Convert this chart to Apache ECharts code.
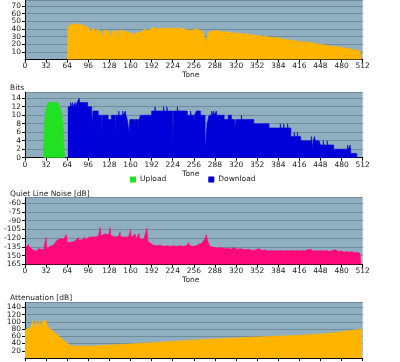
<!DOCTYPE html>
<html><head><meta charset="utf-8">
<script src="https://cdn.jsdelivr.net/npm/echarts@6/dist/echarts.min.js"></script>
<style>html,body{margin:0;padding:0;background:#fff}#c{width:400px;height:362px}</style>
</head><body><div id="c"></div><script>
// ---- data (tone, value) ----
const snrData = [[64,0],[65,43],[68,44],[70,46],[74,47],[78,46],[80,47],[84,46],[88,45],[90,44],[92,43],[94,44],[96,42],[98,41],[100,35],[101,41],[104,40],[106,39],[108,32],[109,40],[112,39],[114,37],[116,38],[118,30],[119,38],[122,37],[126,38],[128,36],[130,30],[131,37],[134,38],[136,37],[138,36],[140,38],[142,28],[143,38],[146,37],[150,38],[152,37],[154,36],[156,30],[157,36],[160,35],[162,34],[164,35],[166,32],[167,35],[170,34],[172,35],[174,33],[176,36],[178,38],[180,39],[182,38],[184,39],[186,37],[188,38],[190,40],[192,41],[194,40],[196,42],[198,41],[200,40],[202,42],[205,41],[208,42],[210,41],[212,42],[215,41],[218,42],[220,41],[222,42],[225,41],[228,42],[230,41],[232,40],[236,41],[240,40],[242,41],[245,39],[248,40],[250,38],[252,40],[256,39],[258,38],[260,40],[263,39],[266,38],[268,37],[270,36],[272,30],[273,20],[275,18],[276,22],[278,35],[280,37],[284,38],[288,37],[292,38],[296,37],[300,36],[304,37],[308,35],[312,36],[316,35],[320,34],[324,35],[328,34],[332,33],[336,34],[340,33],[344,32],[348,32],[352,31],[356,31],[360,30],[364,30],[368,30],[372,29],[376,29],[380,29],[384,28],[388,28],[392,27],[396,26],[400,26],[404,25],[408,25],[412,24],[416,24],[420,23],[424,23],[428,23],[432,22],[436,22],[440,21],[444,20],[448,20],[452,19],[456,19],[460,18],[464,18],[468,17],[472,17],[476,16],[480,16],[484,15],[488,15],[492,14],[496,13],[500,13],[504,12],[508,11],[509,0]];
const uploadBits = [[28,0],[29,6],[30,9],[31,11],[33,12],[35,13],[50,13],[52,12],[55,11],[56,10],[58,7],[59,3],[60,0]];
const downloadBits = [[65,12],[69,13],[70,12],[72,13],[73,12],[76,13],[77,12],[79,13],[82,14],[83,13],[95,12],[101,11],[102,8],[103,11],[111,10],[116,4],[117,10],[126,9],[131,10],[137,5],[138,10],[142,11],[143,10],[148,11],[149,10],[152,11],[153,10],[155,9],[158,6],[159,9],[166,7],[167,9],[172,6],[173,9],[175,10],[192,11],[197,12],[198,11],[210,12],[211,11],[215,12],[216,11],[224,2],[225,11],[231,12],[232,11],[246,10],[251,11],[252,10],[256,8],[257,10],[260,11],[266,10],[273,2],[276,8],[279,10],[283,11],[284,10],[286,11],[287,10],[290,11],[291,10],[302,9],[308,10],[313,9],[318,7],[320,9],[328,10],[329,9],[347,8],[370,7],[387,8],[388,7],[392,8],[393,7],[398,8],[399,7],[403,5],[408,6],[409,5],[413,6],[414,5],[418,4],[434,5],[435,4],[436,2],[437,4],[439,5],[440,4],[445,2],[446,4],[448,3],[452,4],[453,3],[458,4],[459,3],[468,2],[489,3],[490,2],[493,3],[494,1],[503,0]];
const qlnData = [[1,-137],[2,-134],[5,-131],[7,-135],[10,-136],[13,-141],[16,-139],[18,-142],[20,-138],[22,-141],[24,-139],[26,-142],[28,-140],[30,-138],[32,-119],[33,-138],[35,-139],[38,-134],[40,-131],[43,-132],[46,-128],[48,-124],[50,-122],[53,-121],[56,-120],[58,-122],[60,-121],[63,-114],[64,-127],[67,-128],[70,-127],[73,-126],[76,-125],[79,-123],[81,-119],[82,-124],[85,-123],[88,-122],[90,-118],[91,-123],[94,-121],[96,-119],[99,-116],[100,-118],[103,-117],[106,-118],[108,-116],[111,-117],[114,-102],[115,-116],[118,-115],[121,-113],[124,-116],[127,-114],[129,-102],[130,-115],[133,-117],[136,-118],[139,-116],[142,-117],[144,-109],[145,-118],[148,-119],[151,-118],[154,-120],[157,-118],[160,-106],[161,-119],[164,-120],[167,-113],[168,-121],[171,-120],[173,-112],[174,-121],[177,-123],[180,-122],[183,-121],[185,-103],[186,-124],[189,-128],[192,-131],[195,-132],[200,-133],[205,-132],[210,-134],[215,-133],[220,-134],[225,-133],[230,-134],[235,-133],[240,-134],[245,-133],[248,-128],[250,-133],[255,-134],[260,-133],[264,-130],[268,-129],[271,-126],[273,-120],[275,-114],[277,-125],[280,-134],[284,-135],[288,-136],[292,-137],[296,-136],[300,-137],[304,-138],[308,-137],[312,-139],[316,-136],[318,-138],[322,-139],[326,-138],[330,-139],[334,-140],[338,-139],[342,-140],[346,-141],[350,-140],[354,-138],[356,-140],[360,-141],[364,-140],[368,-142],[372,-141],[376,-142],[380,-141],[384,-142],[388,-141],[392,-142],[396,-141],[400,-142],[404,-141],[408,-142],[412,-141],[416,-142],[420,-141],[424,-142],[428,-140],[432,-139],[434,-141],[438,-142],[442,-141],[446,-142],[450,-141],[454,-142],[458,-141],[462,-143],[466,-141],[470,-140],[472,-142],[476,-143],[480,-142],[484,-144],[488,-143],[492,-144],[496,-143],[500,-145],[504,-144],[508,-146],[509,-165]];
const attenData = [[0,78],[2,80],[8,82],[10,82],[11,103],[14,103],[15,84],[17,84],[17.5,103],[19,103],[20,84],[21.5,84],[22,103],[25,103],[26,84],[27,103],[32,103],[33,90],[40,78],[50,62],[60,46],[70,33],[73,30],[100,33],[150,38],[200,43],[266,51],[300,54],[350,58],[418,63],[460,68],[490,75],[511,80]];
const qlnTickLabels = {'-60':'-60','-75':'-75','-90':'-90','-105':'-105','-120':'-120','-135':'-135','-150':'150','-165':'165'};
const titles = ['Bits','Quiet Line Noise [dB]','Attenuation [dB]'];
const legendNames = ['Upload','Download'];

const FONT = 'DejaVu Sans', FS = 7.5, TXT = '#222';
const BG = '#8fafc0', GL = '#6e8c9c';
const ORANGE = '#ffb400', GREEN = '#22e022', BLUE = '#0000d8', PINK = '#ff0a7a';
const L = 25, W = 337.7;
const grids = [
  {left:L,width:W,top:-7,height:66.5},
  {left:L,width:W,top:92.3,height:65.4},
  {left:L,width:W,top:197.7,height:66.8},
  {left:L,width:W,top:302.3,height:66.7}
].map(g => Object.assign({show:true,backgroundColor:BG,borderWidth:0}, g));

function xAx(i){
  return {gridIndex:i,type:'value',min:0,max:512,interval:32,name:'Tone',nameLocation:'middle',nameGap:11.5,
    nameTextStyle:{fontFamily:FONT,fontSize:FS,color:TXT,padding:[0,6,0,0]},
    axisLine:{show:true,lineStyle:{color:'#000',width:1}},
    axisTick:{show:true,length:3,lineStyle:{color:'#000'}},
    axisLabel:{margin:3,fontFamily:FONT,fontSize:FS,color:TXT},splitLine:{show:false}};
}
function yAx(i,min,max,interval,fmt){
  return {gridIndex:i,type:'value',min:min,max:max,interval:interval,
    axisLine:{show:true,lineStyle:{color:'#000',width:1}},
    axisTick:{show:true,length:3,lineStyle:{color:'#000'}},
    axisLabel:{margin:4,fontFamily:FONT,fontSize:FS,color:TXT,showMaxLabel:false,formatter:fmt},
    splitLine:{show:true,lineStyle:{color:GL,width:1}}};
}
function area(name,i,data,color,extra){
  return Object.assign({name:name,type:'line',xAxisIndex:i,yAxisIndex:i,data:data,showSymbol:false,symbol:'none',
    itemStyle:{color:color},lineStyle:{color:color,width:0.6},areaStyle:{color:color,opacity:1},animation:false}, extra||{});
}

const chart = echarts.init(document.getElementById('c'), null, {renderer:'canvas'});
chart.setOption({
  animation:false,
  textStyle:{fontFamily:FONT},
  title: titles.map((t,k)=>({text:t,left:10,top:[84,190,294.5][k],padding:0,
    textStyle:{fontFamily:FONT,fontSize:FS,fontWeight:'normal',color:TXT}})),
  legend:{data:legendNames,left:130,top:175.5,padding:0,itemWidth:6,itemHeight:6,itemGap:42,icon:'rect',
    textStyle:{fontFamily:FONT,fontSize:FS,color:TXT,padding:[0,0,0,-1]}},
  grid:grids,
  xAxis:[xAx(0),xAx(1),xAx(2),Object.assign(xAx(3),{axisLabel:{show:false},name:''})],
  yAxis:[
    yAx(0,0,78,10),
    yAx(1,0,15.4,2),
    yAx(2,-165,-51,15,v=>qlnTickLabels[String(v)]||String(v)),
    yAx(3,0,154,20)
  ],
  series:[
    area('SNR',0,snrData,ORANGE),
    area('Upload',1,uploadBits,GREEN),
    area('Download',1,downloadBits,BLUE,{step:'end'}),
    area('Quiet Line Noise',2,qlnData,PINK,{areaStyle:{color:PINK,opacity:1,origin:'start'}}),
    area('Attenuation',3,attenData,ORANGE)
  ]
});
</script></body></html>
